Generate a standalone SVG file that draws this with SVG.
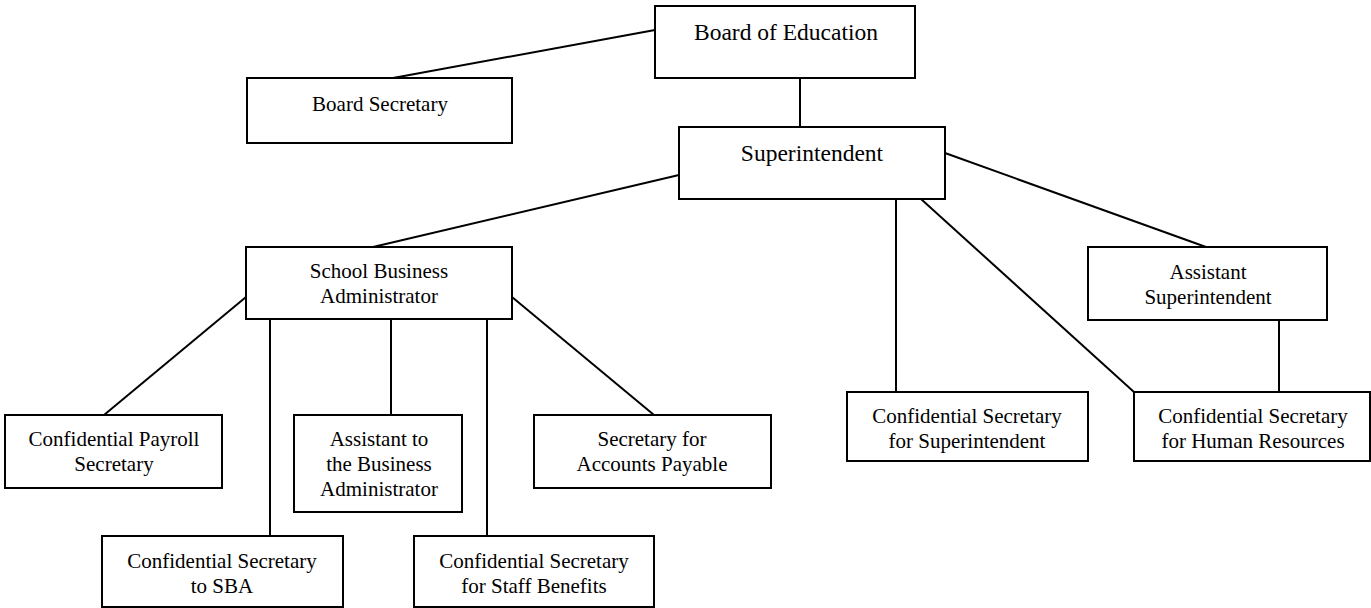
<svg xmlns="http://www.w3.org/2000/svg" width="1371" height="608" viewBox="0 0 1371 608">
<style>
.box{fill:#fff;stroke:#000;stroke-width:2}
.con line{stroke:#000;stroke-width:2}
text{font-family:'Liberation Serif','Times New Roman','DejaVu Serif',serif;font-size:21px;fill:#000;text-anchor:middle}
.big{font-size:23.5px}
</style>
<rect width="1371" height="608" fill="#fff"/>
<g id="connectors" class="con">
<line x1="655" y1="30" x2="393" y2="78"/>
<line x1="800" y1="78" x2="800" y2="127"/>
<line x1="679" y1="175" x2="373" y2="247"/>
<line x1="945" y1="153" x2="1206" y2="247"/>
<line x1="896" y1="199" x2="896" y2="392"/>
<line x1="921" y1="199" x2="1134" y2="392"/>
<line x1="1279" y1="320" x2="1279" y2="392"/>
<line x1="246" y1="297" x2="104" y2="415"/>
<line x1="270" y1="319" x2="270" y2="536"/>
<line x1="391" y1="319" x2="391" y2="415"/>
<line x1="487" y1="319" x2="487" y2="536"/>
<line x1="512" y1="297" x2="654" y2="415"/>
</g>
<g font-family="Liberation Serif, serif">
<g id="board-of-education"><rect class="box" x="655" y="6" width="260" height="72"/><text class="big" x="786" y="40">Board of Education</text></g>
<g id="board-secretary"><rect class="box" x="247" y="78" width="265" height="65"/><text x="380" y="111">Board Secretary</text></g>
<g id="superintendent"><rect class="box" x="679" y="127" width="266" height="72"/><text class="big" x="812" y="161">Superintendent</text></g>
<g id="school-business-administrator"><rect class="box" x="246" y="247" width="266" height="72"/><text x="379" y="278">School Business</text><text x="379" y="303">Administrator</text></g>
<g id="assistant-superintendent"><rect class="box" x="1088" y="247" width="239" height="73"/><text x="1208" y="279">Assistant</text><text x="1208" y="304">Superintendent</text></g>
<g id="confidential-payroll-secretary"><rect class="box" x="5" y="415" width="217" height="73"/><text x="114" y="446">Confidential Payroll</text><text x="114" y="471">Secretary</text></g>
<g id="assistant-to-business-administrator"><rect class="box" x="294" y="415" width="168" height="97"/><text x="379" y="446">Assistant to</text><text x="379" y="471">the Business</text><text x="379" y="496">Administrator</text></g>
<g id="secretary-accounts-payable"><rect class="box" x="534" y="415" width="237" height="73"/><text x="652" y="446">Secretary for</text><text x="652" y="471">Accounts Payable</text></g>
<g id="confidential-secretary-superintendent"><rect class="box" x="847" y="392" width="241" height="69"/><text x="967" y="423">Confidential Secretary</text><text x="967" y="448">for Superintendent</text></g>
<g id="confidential-secretary-hr"><rect class="box" x="1134" y="392" width="236" height="69"/><text x="1253" y="423">Confidential Secretary</text><text x="1253" y="448">for Human Resources</text></g>
<g id="confidential-secretary-sba"><rect class="box" x="102" y="536" width="241" height="71"/><text x="222" y="568">Confidential Secretary</text><text x="222" y="593">to SBA</text></g>
<g id="confidential-secretary-staff-benefits"><rect class="box" x="414" y="536" width="240" height="71"/><text x="534" y="568">Confidential Secretary</text><text x="534" y="593">for Staff Benefits</text></g>
</g>
</svg>
